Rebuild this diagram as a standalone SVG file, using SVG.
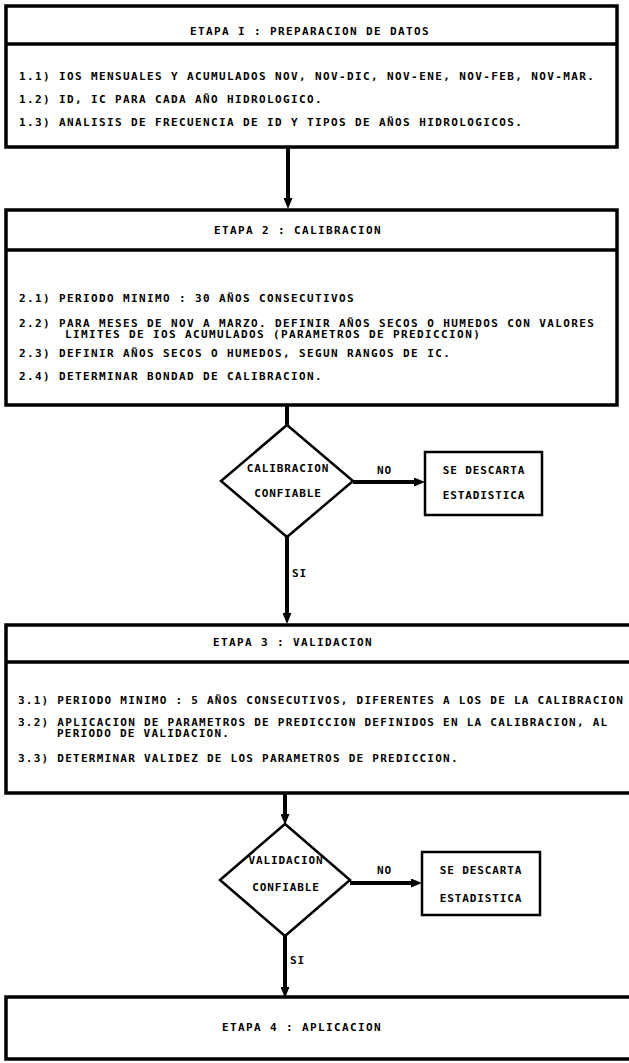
<svg xmlns="http://www.w3.org/2000/svg" width="629" height="1063" viewBox="0 0 629 1063">
<style>
.t{font-family:"DejaVu Sans Mono","Liberation Mono",monospace;font-weight:bold;font-size:11px;letter-spacing:1.38px;fill:#000}
.n{letter-spacing:1.25px}
.s{letter-spacing:0.9px}
.c{text-anchor:middle}
.box{fill:#fff;stroke:#000;stroke-width:3.5}
.sep{stroke:#000;stroke-width:3.5}
.dia{fill:#fff;stroke:#000;stroke-width:2.5}
.sm{fill:#fff;stroke:#000;stroke-width:2.5}
.ln{stroke:#000;stroke-width:4;fill:none}
</style>
<defs>
<marker id="ah" markerUnits="userSpaceOnUse" markerWidth="11" markerHeight="9" refX="1" refY="4.5" orient="auto">
<path d="M0,0 L11,4.5 L0,9 z" fill="#000"/>
</marker>
</defs>

<g id="etapa1">
<rect class="box" x="6" y="6" width="611" height="141"/>
<line class="sep" x1="6" y1="44" x2="617" y2="44"/>
<text class="t c" x="310" y="35">ETAPA I : PREPARACION DE DATOS</text>
<text class="t" x="19" y="80">1.1) IOS MENSUALES Y ACUMULADOS NOV, NOV-DIC, NOV-ENE, NOV-FEB, NOV-MAR.</text>
<text class="t" x="19" y="103">1.2) ID, IC PARA CADA AÑO HIDROLOGICO.</text>
<text class="t" x="19" y="126">1.3) ANALISIS DE FRECUENCIA DE ID Y TIPOS DE AÑOS HIDROLOGICOS.</text>
</g>

<g id="etapa2">
<rect class="box" x="6" y="210" width="611" height="195"/>
<line class="sep" x1="6" y1="250" x2="617" y2="250"/>
<text class="t c" x="298" y="234">ETAPA 2 : CALIBRACION</text>
<text class="t" x="19" y="302">2.1) PERIODO MINIMO : 30 AÑOS CONSECUTIVOS</text>
<text class="t" x="19" y="327">2.2) PARA MESES DE NOV A MARZO. DEFINIR AÑOS SECOS O HUMEDOS CON VALORES</text>
<text class="t" x="65" y="338">LIMITES DE IOS ACUMULADOS (PARAMETROS DE PREDICCION)</text>
<text class="t" x="19" y="357">2.3) DEFINIR AÑOS SECOS O HUMEDOS, SEGUN RANGOS DE IC.</text>
<text class="t" x="19" y="380">2.4) DETERMINAR BONDAD DE CALIBRACION.</text>
</g>

<g id="decision1">
<polygon class="dia" points="287,425 353,481 287,537 221,481"/>
<text class="t s c" x="288" y="472">CALIBRACION</text>
<text class="t s c" x="288" y="497">CONFIABLE</text>
</g>

<g id="descarta1">
<rect class="sm" x="425" y="452" width="117" height="63"/>
<text class="t s c" x="484" y="474">SE DESCARTA</text>
<text class="t s c" x="484" y="499">ESTADISTICA</text>
</g>

<g id="etapa3">
<rect class="box" x="6" y="625" width="640" height="168"/>
<line class="sep" x1="6" y1="662" x2="629" y2="662"/>
<text class="t c" x="293" y="646">ETAPA 3 : VALIDACION</text>
<text class="t n" x="18" y="704">3.1) PERIODO MINIMO : 5 AÑOS CONSECUTIVOS, DIFERENTES A LOS DE LA CALIBRACION</text>
<text class="t n" x="18" y="726">3.2) APLICACION DE PARAMETROS DE PREDICCION DEFINIDOS EN LA CALIBRACION, AL</text>
<text class="t n" x="57" y="737">PERIODO DE VALIDACION.</text>
<text class="t n" x="18" y="762">3.3) DETERMINAR VALIDEZ DE LOS PARAMETROS DE PREDICCION.</text>
</g>

<g id="decision2">
<polygon class="dia" points="285,824 350,880 285,936 220,880"/>
<text class="t s c" x="286" y="864">VALIDACION</text>
<text class="t s c" x="286" y="891">CONFIABLE</text>
</g>

<g id="descarta2">
<rect class="sm" x="422" y="852" width="118" height="63"/>
<text class="t s c" x="481" y="874">SE DESCARTA</text>
<text class="t s c" x="481" y="902">ESTADISTICA</text>
</g>

<g id="etapa4">
<rect class="box" x="6" y="997" width="640" height="62"/>
<text class="t c" x="302" y="1031">ETAPA 4 : APLICACION</text>
</g>

<g id="connectors">
<line class="ln" x1="288" y1="147" x2="288" y2="199" marker-end="url(#ah)"/>
<line class="ln" x1="287" y1="405" x2="287" y2="426"/>
<line class="ln" x1="353" y1="482" x2="415" y2="482" marker-end="url(#ah)"/>
<text class="t s" x="377" y="474">NO</text>
<line class="ln" x1="287" y1="537" x2="287" y2="614" marker-end="url(#ah)"/>
<text class="t s" x="292" y="577">SI</text>
<line class="ln" x1="285" y1="793" x2="285" y2="815" marker-end="url(#ah)"/>
<line class="ln" x1="350" y1="883" x2="412" y2="883" marker-end="url(#ah)"/>
<text class="t s" x="377" y="874">NO</text>
<line class="ln" x1="285" y1="936" x2="285" y2="988" marker-end="url(#ah)"/>
<text class="t s" x="290" y="964">SI</text>
</g>
</svg>
